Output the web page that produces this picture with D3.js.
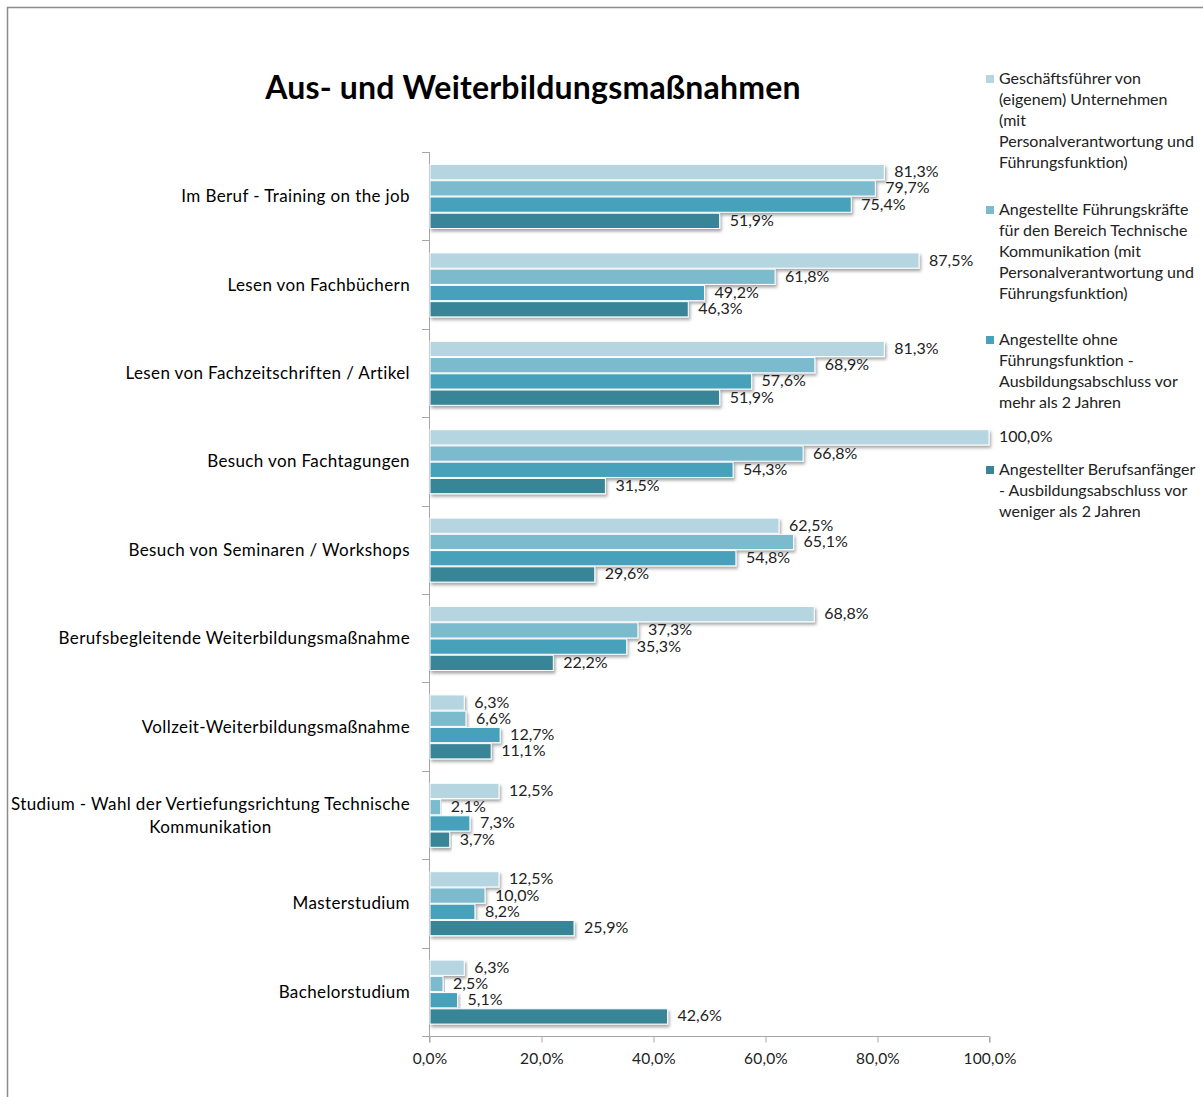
<!DOCTYPE html>
<html>
<head>
<meta charset="utf-8">
<script src="https://cdn.jsdelivr.net/npm/d3@7"></script>
<style>
    body { margin: 0; background: #fff; }
    svg { font-family: Lato, 'Open Sans', sans-serif; }
    .axis path, .axis line { stroke: #a6a6a6; }
    .axis text { font-size: 17px; letter-spacing: 0.38px; fill: #000; font-family: Lato, sans-serif; }
    .axis .tick text { font-size: 15.5px; letter-spacing: 0.2px; fill: #222; }
</style>
</head>
<body>
<svg width="1203" height="1097"></svg>
<script>
// categories, top to bottom
const categories = [
    'Im Beruf - Training on the job',
    'Lesen von Fachbüchern',
    'Lesen von Fachzeitschriften / Artikel',
    'Besuch von Fachtagungen',
    'Besuch von Seminaren / Workshops',
    'Berufsbegleitende Weiterbildungsmaßnahme',
    'Vollzeit-Weiterbildungsmaßnahme',
    'Studium - Wahl der Vertiefungsrichtung Technische Kommunikation',
    'Masterstudium',
    'Bachelorstudium'
];

const seriesNames = [
    'Geschäftsführer von (eigenem) Unternehmen (mit Personalverantwortung und Führungsfunktion)',
    'Angestellte Führungskräfte für den Bereich Technische Kommunikation (mit Personalverantwortung und Führungsfunktion)',
    'Angestellte ohne Führungsfunktion - Ausbildungsabschluss vor mehr als 2 Jahren',
    'Angestellter Berufsanfänger - Ausbildungsabschluss vor weniger als 2 Jahren'
];

const geschaeftsfuehrer = [ 81.3, 87.5, 81.3, 100.0, 62.5, 68.8, 6.3, 12.5, 12.5, 6.3 ];
const fuehrungskraefte = [ 79.7, 61.8, 68.9, 66.8, 65.1, 37.3, 6.6, 2.1, 10.0, 2.5 ];
const ohneFuehrung = [ 75.4, 49.2, 57.6, 54.3, 54.8, 35.3, 12.7, 7.3, 8.2, 5.1 ];
const berufsanfaenger = [ 51.9, 46.3, 51.9, 31.5, 29.6, 22.2, 11.1, 3.7, 25.9, 42.6 ];

const xTicks = [ 0, 20, 40, 60, 80, 100 ];

const seriesValues = [ geschaeftsfuehrer, fuehrungskraefte, ohneFuehrung, berufsanfaenger ];
const colors = [ '#b5d5e0', '#7cbace', '#46a1ba', '#398598' ];

// legend lines as wrapped in the original
const legendLines = [
    [ 'Geschäftsführer von', '(eigenem) Unternehmen', '(mit', 'Personalverantwortung und', 'Führungsfunktion)' ],
    [ 'Angestellte Führungskräfte', 'für den Bereich Technische', 'Kommunikation (mit', 'Personalverantwortung und', 'Führungsfunktion)' ],
    [ 'Angestellte ohne', 'Führungsfunktion -', 'Ausbildungsabschluss vor', 'mehr als 2 Jahren' ],
    [ 'Angestellter Berufsanfänger', '- Ausbildungsabschluss vor', 'weniger als 2 Jahren' ]
];
const legendTops = [ 79, 210, 340, 470 ];

const margin = { left: 429, top: 152 };
const innerWidth = 560;
const innerHeight = 884;

const svg = d3.select( 'svg' );

// drop shadow for the bars
const defs = svg.append( 'defs' );
defs.append( 'filter' )
    .attr( 'id', 'shadow' )
    .attr( 'x', '-5%' ).attr( 'y', '-30%' )
    .attr( 'width', '115%' ).attr( 'height', '180%' )
    .append( 'feDropShadow' )
    .attr( 'dx', 1.5 )
    .attr( 'dy', 2.5 )
    .attr( 'stdDeviation', 1.5 )
    .attr( 'flood-color', '#000' )
    .attr( 'flood-opacity', 0.35 );

// chart border (runs past the right and bottom edge, as in the original)
svg.append( 'path' )
    .attr( 'd', 'M1203,7.5H7.5V1097' )
    .attr( 'fill', 'none' )
    .attr( 'stroke', '#8c8c8c' )
    .attr( 'stroke-width', 1.5 );

svg.append( 'text' )
    .attr( 'x', 533 )
    .attr( 'y', 99 )
    .attr( 'text-anchor', 'middle' )
    .style( 'font-size', '32px' )
    .style( 'letter-spacing', '0.2px' )
    .style( 'font-weight', 'bold' )
    .style( 'font-family', 'Lato, sans-serif' )
    .text( 'Aus- und Weiterbildungsmaßnahmen' );

const plotGroup = svg.append( 'g' )
    .attr( 'transform', `translate(${margin.left},${margin.top})` );

const xScale = d3.scaleLinear().domain( [ 0, 100 ] ).range( [ 0, innerWidth ] );
const yScale = d3.scaleBand().domain( categories ).range( [ 0, innerHeight ] );
const innerScale = d3.scaleBand()
    .domain( d3.range( seriesValues.length ) )
    .range( [ 12.5, 76.5 ] )
    .paddingInner( 0.06 );

// y axis: line with ticks at category boundaries
const yAxisGroup = plotGroup.append( 'g' ).attr( 'class', 'axis' );
yAxisGroup.append( 'line' )
    .attr( 'x1', 0.5 ).attr( 'x2', 0.5 )
    .attr( 'y1', 0 ).attr( 'y2', innerHeight );
yAxisGroup.selectAll( '.btick' )
    .data( d3.range( categories.length + 1 ) )
    .enter().append( 'line' )
    .attr( 'class', 'btick' )
    .attr( 'x1', -7 ).attr( 'x2', 0.5 )
    .attr( 'y1', i => Math.round( i * yScale.step() ) + 0.5 )
    .attr( 'y2', i => Math.round( i * yScale.step() ) + 0.5 );

// category labels, wrapped like the original
const wrapped = {
    'Studium - Wahl der Vertiefungsrichtung Technische Kommunikation':
        [ 'Studium - Wahl der Vertiefungsrichtung Technische', 'Kommunikation' ]
};
categories.forEach( ( cat ) => {
    const cy = yScale( cat ) + yScale.bandwidth() / 2;
    const lines = wrapped[ cat ];
    if ( lines ) {
        const t = yAxisGroup.append( 'text' )
            .attr( 'y', cy - 11 + 6 )
            .attr( 'text-anchor', 'end' )
            .attr( 'x', -19 )
            .text( lines[ 0 ] );
        const w = t.node().getComputedTextLength();
        yAxisGroup.append( 'text' )
            .attr( 'x', -19 - w / 2 )
            .attr( 'y', cy + 12 + 6 )
            .attr( 'text-anchor', 'middle' )
            .text( lines[ 1 ] );
    } else {
        yAxisGroup.append( 'text' )
            .attr( 'x', -19 )
            .attr( 'y', cy + 6 )
            .attr( 'text-anchor', 'end' )
            .text( cat );
    }
} );

// x axis
const xAxis = d3.axisBottom( xScale )
    .tickValues( xTicks )
    .tickSize( 6 )
    .tickPadding( 10 )
    .tickFormat( d => d.toFixed( 1 ).replace( '.', ',' ) + '%' );

plotGroup.append( 'g' )
    .attr( 'class', 'axis' )
    .attr( 'transform', `translate(0.5,${innerHeight + 0.5})` )
    .call( xAxis )
    .call( g => g.select( '.domain' ).attr( 'd', `M0,6V0H${innerWidth}V6` ) );

// bars
const barData = [];
categories.forEach( ( cat, ci ) => {
    seriesValues.forEach( ( values, si ) => {
        barData.push( { cat, series: si, value: values[ ci ] } );
    } );
} );

const drawGroup = plotGroup.append( 'g' ).attr( 'class', 'draw' );
drawGroup.selectAll( 'rect' ).data( barData )
    .enter().append( 'rect' )
    .attr( 'x', 1 )
    .attr( 'y', d => yScale( d.cat ) + innerScale( d.series ) )
    .attr( 'width', d => xScale( d.value ) - 1 )
    .attr( 'height', innerScale.bandwidth() )
    .attr( 'fill', d => colors[ d.series ] )
    .attr( 'stroke', '#fff' )
    .attr( 'stroke-width', 1 )
    .attr( 'filter', 'url(#shadow)' );

drawGroup.selectAll( 'text' ).data( barData )
    .enter().append( 'text' )
    .attr( 'x', d => xScale( d.value ) + 10 )
    .attr( 'y', d => yScale( d.cat ) + innerScale( d.series ) + innerScale.bandwidth() / 2 + 5 )
    .style( 'font-size', '16px' )
    .attr( 'fill', '#222' )
    .text( d => d.value.toFixed( 1 ).replace( '.', ',' ) + '%' );

// legend
const legend = svg.append( 'g' ).attr( 'class', 'legend' );
legendLines.forEach( ( lines, i ) => {
    const top = legendTops[ i ];
    legend.append( 'rect' )
        .attr( 'x', 986 ).attr( 'y', top - 4 )
        .attr( 'width', 8 ).attr( 'height', 8 )
        .attr( 'fill', colors[ i ] );
    lines.forEach( ( line, li ) => {
        legend.append( 'text' )
            .attr( 'x', 999 )
            .attr( 'y', top + li * 21 + 5 )
            .style( 'font-size', '16px' )
            .attr( 'fill', '#222' )
            .text( line );
    } );
} );
</script>
</body>
</html>
